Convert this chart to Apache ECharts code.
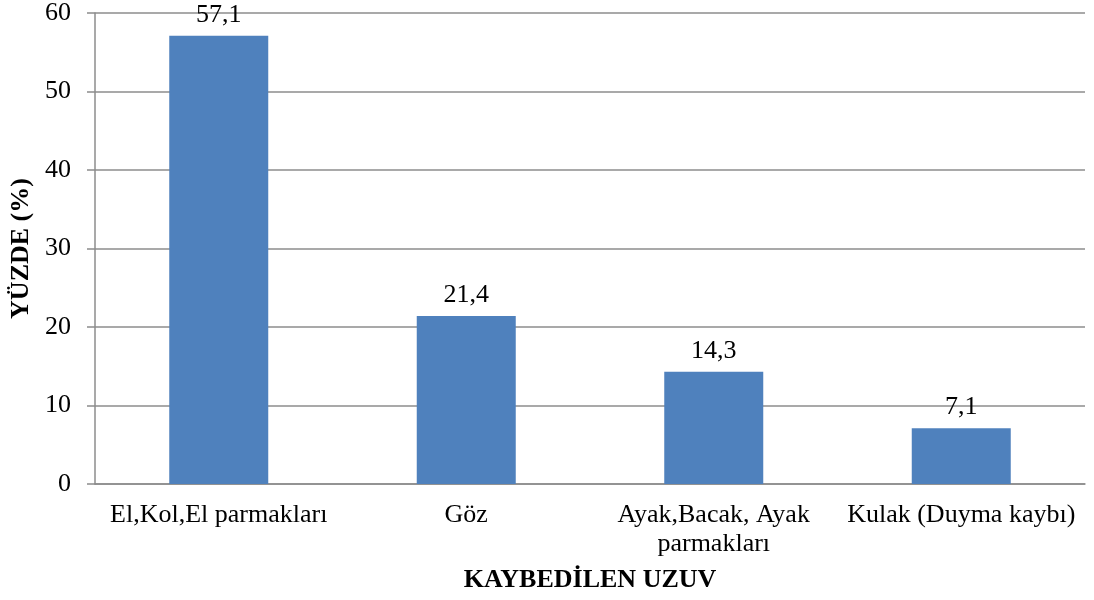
<!DOCTYPE html>
<html>
<head>
<meta charset="utf-8">
<script src="https://cdn.jsdelivr.net/npm/echarts@6/dist/echarts.min.js"></script>
<style>
  html, body { margin: 0; padding: 0; background: #fff; }
  #chart { width: 1094px; height: 600px; }
</style>
</head>
<body>
<div id="chart"></div>
<script>
// kaybedilen uzuv kategorileri
const categories = ['El,Kol,El parmakları', 'Göz', 'Ayak,Bacak, Ayak\nparmakları', 'Kulak (Duyma kaybı)'];
// yüzde değerleri
const values = [57.1, 21.4, 14.3, 7.1];
const yTicks = { min: 0, max: 60, interval: 10 };

const chart = echarts.init(document.getElementById('chart'));
const font = '"Liberation Serif", "Times New Roman", serif';
const gray = '#8c8c8c';

chart.setOption({
  animation: false,
  textStyle: { fontFamily: font },
  grid: { left: 95, right: 9, top: 13, bottom: 116 },
  xAxis: {
    type: 'category',
    data: categories,
    name: 'KAYBEDİLEN UZUV',
    nameLocation: 'middle',
    nameGap: 81,
    nameTextStyle: { fontFamily: font, fontWeight: 'bold', fontSize: 26, lineHeight: 30, color: '#000' },
    axisLine: { lineStyle: { color: gray, width: 1.5 } },
    axisTick: { show: false },
    axisLabel: { fontFamily: font, fontSize: 26, color: '#000', margin: 17, lineHeight: 29, interval: 0 }
  },
  yAxis: {
    type: 'value',
    min: yTicks.min,
    max: yTicks.max,
    interval: yTicks.interval,
    name: 'YÜZDE (%)',
    nameLocation: 'middle',
    nameGap: 57,
    nameRotate: 90,
    nameTextStyle: { fontFamily: font, fontWeight: 'bold', fontSize: 26, color: '#000' },
    axisLine: { show: true, lineStyle: { color: gray, width: 1.5 } },
    axisTick: { show: true, length: 8, lineStyle: { color: gray, width: 1.5 } },
    axisLabel: { fontFamily: font, fontSize: 26, color: '#000', margin: 24 },
    splitLine: { lineStyle: { color: gray, width: 1.5 } }
  },
  series: [
    {
      type: 'bar',
      data: values,
      barWidth: '40%',
      itemStyle: { color: '#4f81bd' },
      label: {
        show: true,
        position: 'top',
        distance: 8,
        fontFamily: font,
        fontSize: 26,
        color: '#000',
        formatter: (p) => String(p.value).replace('.', ',')
      }
    }
  ]
});
</script>
</body>
</html>
